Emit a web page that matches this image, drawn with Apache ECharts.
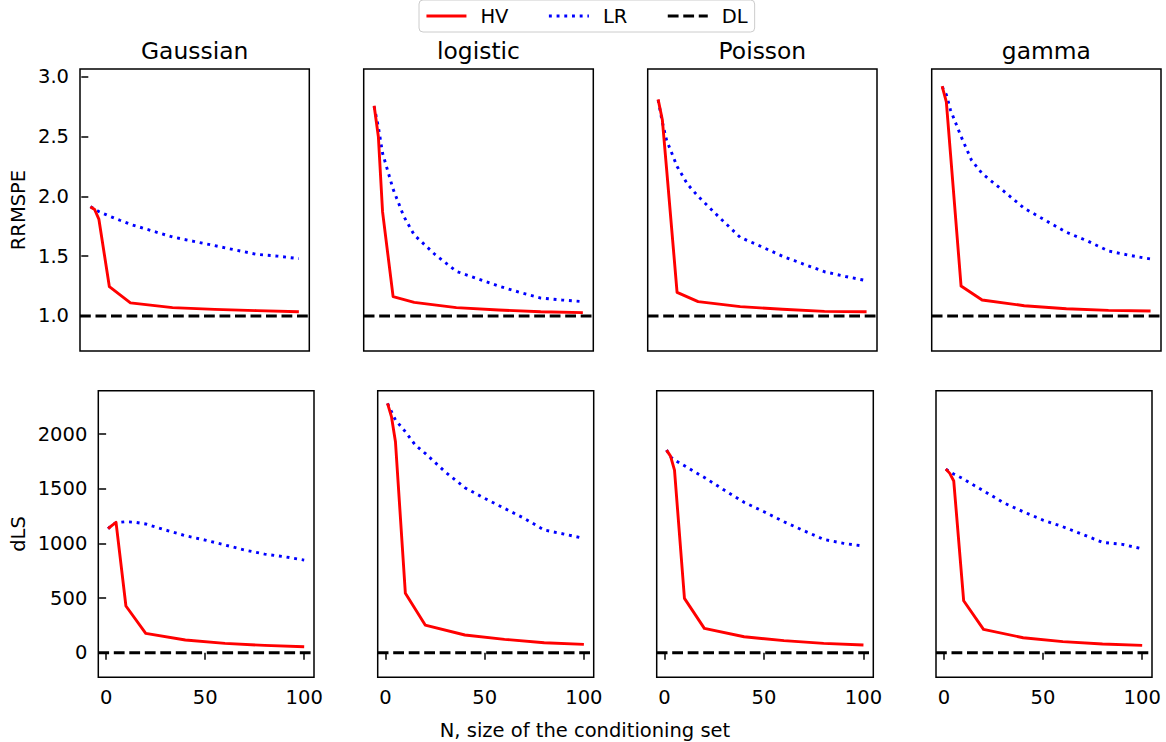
<!DOCTYPE html>
<html>
<head>
<meta charset="utf-8">
<script src="https://cdn.jsdelivr.net/npm/echarts@6/dist/echarts.min.js"></script>
<style>
html,body{margin:0;padding:0;background:#fff;}
#chart{width:1166px;height:742px;}
</style>
</head>
<body>
<div id="chart"></div>
<script>
// ---------------- DATA ----------------
const families = ['Gaussian', 'logistic', 'Poisson', 'gamma'];
const N_HV = [1, 3, 5, 10, 20, 40, 60, 80, 100];
const N_LR = [1, 3, 5, 10, 15, 20, 30, 40, 50, 60, 70, 80, 90, 100];

// RRMSPE (top row)
const rrmspeHV_Gaussian = [1.913, 1.89, 1.81, 1.245, 1.11, 1.07, 1.055, 1.045, 1.036];
const rrmspeLR_Gaussian = [1.913, 1.894, 1.872, 1.835, 1.80, 1.766, 1.713, 1.66, 1.624, 1.588, 1.551, 1.515, 1.50, 1.479];
const rrmspeHV_logistic = [2.757, 2.50, 1.87, 1.162, 1.114, 1.07, 1.05, 1.035, 1.028];
const rrmspeLR_logistic = [2.75, 2.58, 2.36, 2.06, 1.835, 1.677, 1.512, 1.373, 1.312, 1.25, 1.198, 1.15, 1.134, 1.12];
const rrmspeHV_Poisson = [2.81, 2.64, 2.234, 1.198, 1.12, 1.078, 1.056, 1.039, 1.036];
const rrmspeLR_Poisson = [2.805, 2.62, 2.47, 2.25, 2.10, 2.0, 1.825, 1.657, 1.58, 1.50, 1.434, 1.37, 1.33, 1.295];
const rrmspeHV_gamma = [2.92, 2.79, 2.35, 1.25, 1.134, 1.086, 1.061, 1.047, 1.042];
const rrmspeLR_gamma = [2.916, 2.85, 2.72, 2.50, 2.30, 2.19, 2.047, 1.90, 1.80, 1.70, 1.627, 1.543, 1.507, 1.476];

// dLS (bottom row)
const dlsHV_Gaussian = [1134, 1164, 1192, 427, 177, 116, 85, 67, 55];
const dlsLR_Gaussian = [1134, 1170, 1189, 1198, 1192, 1177, 1122, 1070, 1030, 985, 939, 902, 878, 847];
const dlsHV_logistic = [2280, 2158, 1929, 543, 253, 162, 122, 91, 76];
const dlsLR_logistic = [2280, 2204, 2128, 2021, 1899, 1823, 1655, 1509, 1411, 1320, 1228, 1122, 1085, 1045];
const dlsHV_Poisson = [1853, 1798, 1670, 497, 222, 146, 110, 85, 70];
const dlsLR_Poisson = [1853, 1792, 1762, 1710, 1655, 1603, 1487, 1375, 1289, 1198, 1116, 1036, 1000, 975];
const dlsHV_gamma = [1679, 1640, 1570, 475, 213, 137, 101, 79, 67];
const dlsLR_gamma = [1679, 1655, 1634, 1588, 1533, 1481, 1372, 1289, 1213, 1152, 1082, 1009, 991, 950];

// DL reference levels
const dlRRMSPE = 1.0;
const dlDLS = 0;

// Axes
const xTicks = [0, 50, 100];
const rrmspeTicks = [1.0, 1.5, 2.0, 2.5, 3.0];
const dlsTicks = [0, 500, 1000, 1500, 2000];
const xLim = [-3.95, 104.95];
const rrmspeLim = [0.7075, 3.064];
const dlsLim = [-225, 2396];

const rowLabels = ['RRMSPE', 'dLS'];
const xLabel = 'N, size of the conditioning set';

// ---------------- LAYOUT ----------------
const FONT = 'DejaVu Sans';
const topGrids = [[80, 229.3], [363.7, 229.6], [647.7, 229.3], [931.7, 229.3]];
const botGrids = [[98.3, 215.7], [377.7, 216], [656.7, 216.6], [936, 216]];
const topRow = {top: 69, height: 282};
const botRow = {top: 390.7, height: 286.6};

const hvTop = [rrmspeHV_Gaussian, rrmspeHV_logistic, rrmspeHV_Poisson, rrmspeHV_gamma];
const lrTop = [rrmspeLR_Gaussian, rrmspeLR_logistic, rrmspeLR_Poisson, rrmspeLR_gamma];
const hvBot = [dlsHV_Gaussian, dlsHV_logistic, dlsHV_Poisson, dlsHV_gamma];
const lrBot = [dlsLR_Gaussian, dlsLR_logistic, dlsLR_Poisson, dlsLR_gamma];

const grid = [], xAxis = [], yAxis = [], series = [];
const LW = 2.9;
const tickStyle = {color: '#000', width: 1.5};
const labelStyle = {color: '#000', fontFamily: FONT, fontSize: 19.5};

function addPanel(idx, g, row, isBottom, col) {
  grid.push({
    left: g[0], top: row.top, width: g[1], height: row.height,
    show: true, borderColor: '#000', borderWidth: 1.5, backgroundColor: 'transparent',
    containLabel: false, outerBoundsMode: 'none'
  });
  xAxis.push({
    type: 'value', gridIndex: idx, min: xLim[0], max: xLim[1],
    axisLine: {show: false},
    splitLine: {show: false},
    axisTick: {show: isBottom, customValues: xTicks, length: 7, lineStyle: tickStyle},
    axisLabel: {show: isBottom, customValues: xTicks, margin: 10, ...labelStyle}
  });
  const ticks = isBottom ? dlsTicks : rrmspeTicks;
  const lim = isBottom ? dlsLim : rrmspeLim;
  yAxis.push({
    type: 'value', gridIndex: idx, min: lim[0], max: lim[1],
    axisLine: {show: false},
    splitLine: {show: false},
    axisTick: {show: col === 0, customValues: ticks, length: 7, lineStyle: tickStyle},
    axisLabel: {show: col === 0, customValues: ticks, margin: 11, ...labelStyle,
      formatter: isBottom ? (v => String(Math.round(v))) : (v => v.toFixed(1))}
  });
  const hv = isBottom ? hvBot[col] : hvTop[col];
  const lr = isBottom ? lrBot[col] : lrTop[col];
  const dl = isBottom ? dlDLS : dlRRMSPE;
  series.push({
    name: 'DL', type: 'line', xAxisIndex: idx, yAxisIndex: idx, symbol: 'none', silent: true,
    data: [[xLim[0], dl], [xLim[1], dl]],
    lineStyle: {color: '#000', width: LW, type: [10.8, 4.7], cap: 'butt'},
    itemStyle: {color: '#000'}, z: 2
  });
  series.push({
    name: 'LR', type: 'line', xAxisIndex: idx, yAxisIndex: idx, symbol: 'none', silent: true,
    data: N_LR.map((n, i) => [n, lr[i]]),
    lineStyle: {color: '#0000ff', width: LW, type: [2.9, 4.8], cap: 'butt'},
    itemStyle: {color: '#0000ff'}, z: 3
  });
  series.push({
    name: 'HV', type: 'line', xAxisIndex: idx, yAxisIndex: idx, symbol: 'none', silent: true,
    data: N_HV.map((n, i) => [n, hv[i]]),
    lineStyle: {color: '#ff0000', width: LW, type: 'solid', cap: 'butt', join: 'round'},
    itemStyle: {color: '#ff0000'}, z: 4
  });
}

topGrids.forEach((g, c) => addPanel(c, g, topRow, false, c));
botGrids.forEach((g, c) => addPanel(4 + c, g, botRow, true, c));

const graphic = [];
families.forEach((f, c) => {
  const g = topGrids[c];
  graphic.push({type: 'text', x: g[0] + g[1] / 2, y: 51, silent: true,
    style: {text: f, fill: '#000', font: '23.4px "DejaVu Sans"', align: 'center', verticalAlign: 'middle'}});
});
graphic.push({type: 'text', x: 18, y: 210, rotation: Math.PI / 2, silent: true,
  style: {text: rowLabels[0], fill: '#000', font: '19.5px "DejaVu Sans"', align: 'center', verticalAlign: 'middle'}});
graphic.push({type: 'text', x: 18, y: 534, rotation: Math.PI / 2, silent: true,
  style: {text: rowLabels[1], fill: '#000', font: '19.5px "DejaVu Sans"', align: 'center', verticalAlign: 'middle'}});
graphic.push({type: 'text', x: 585, y: 730, silent: true,
  style: {text: xLabel, fill: '#000', font: '19.5px "DejaVu Sans"', align: 'center', verticalAlign: 'middle'}});

const chart = echarts.init(document.getElementById('chart'), null, {renderer: 'svg', width: 1166, height: 742});
chart.setOption({
  animation: false,
  backgroundColor: '#fff',
  textStyle: {fontFamily: FONT},
  legend: {
    data: ['HV', 'LR', 'DL'],
    left: 419, top: 0,
    orient: 'horizontal',
    itemWidth: 40, itemHeight: 14, itemGap: 39,
    padding: [6, 7, 6, 6],
    borderColor: '#cccccc', borderWidth: 1, borderRadius: 4,
    backgroundColor: 'rgba(255,255,255,0.8)',
    itemStyle: {opacity: 0},
    lineStyle: {width: LW},
    textStyle: {color: '#000', fontFamily: FONT, fontSize: 19.5, padding: [0, 0, 0, 9]},
    selectedMode: false
  },
  grid, xAxis, yAxis, series, graphic
});
</script>
</body>
</html>
